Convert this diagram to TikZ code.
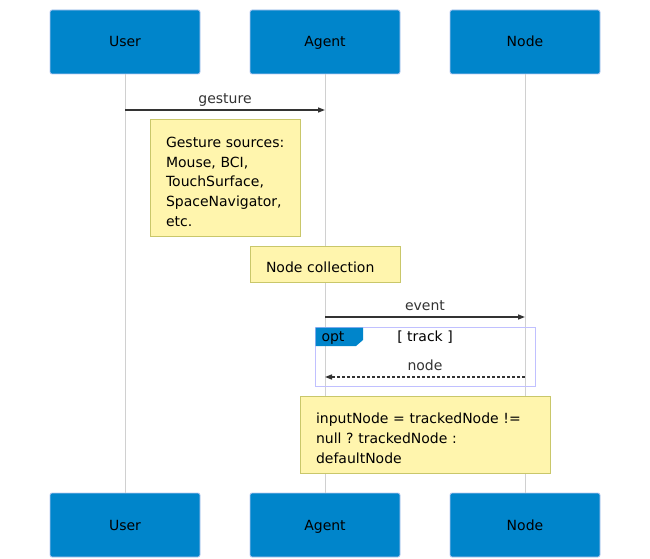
\documentclass[tikz,border=0pt]{standalone}
\usepackage{fontspec}
\setmainfont{DejaVu Sans}
\usepackage{xcolor}
\usetikzlibrary{arrows.meta}
\frenchspacing

\definecolor{actorblue}{HTML}{0085CB}
\definecolor{actorline}{HTML}{B9C8F0}
\definecolor{lifegray}{HTML}{D0D0D0}
\definecolor{notefill}{HTML}{FFF5AD}
\definecolor{noteline}{HTML}{C9C76A}
\definecolor{msggray}{HTML}{333333}
\definecolor{optline}{HTML}{C0C0FF}

\newcommand{\notetop}{\rule{0pt}{18pt}}

\tikzset{
    actor/.style={rectangle, rounded corners=2pt, fill=actorblue, draw=actorline,
        line width=0.8pt, minimum width=150pt, minimum height=64pt, inner sep=0pt,
        text height=10pt, text depth=0pt, font=\fontsize{14}{17}\selectfont},
    lifeline/.style={draw=lifegray, line width=1pt},
    msg/.style={draw=msggray, line width=1.4pt, -{Triangle[length=7pt,width=5pt]}},
    msglabel/.style={text=msggray, font=\fontsize{14}{17}\selectfont, inner sep=0pt, anchor=base},
    note/.style={rectangle, fill=notefill, draw=noteline, line width=1pt,
        inner xsep=16pt, inner ysep=0pt, align=left,
        font=\fontsize{14}{19.8}\selectfont}
}

\begin{document}
\begin{tikzpicture}[x=1pt, y=-1pt]
            \useasboundingbox (0,0) rectangle (650,559);

            % Actors
            \node[actor] (usertop) at (125,42) {User};
            \node[actor] (agenttop) at (325,42) {Agent};
            \node[actor] (nodetop) at (525,42) {Node};
            \node[actor] (userbot) at (125,525) {User};
            \node[actor] (agentbot) at (325,525) {Agent};
            \node[actor] (nodebot) at (525,525) {Node};

            % Lifelines
            \draw[lifeline] (usertop.south) -- (userbot.north);
            \draw[lifeline] (agenttop.south) -- (agentbot.north);
            \draw[lifeline] (nodetop.south) -- (nodebot.north);

            % Message points
            \coordinate (g1) at (125,110);
            \coordinate (g2) at (325,110);
            \coordinate (e1) at (325,317);
            \coordinate (e2) at (525,317);
            \coordinate (n1) at (525,377);
            \coordinate (n2) at (325,377);

            % Messages
            \draw[msg] (g1) -- (g2);
            \node[msglabel] (gesture) at (225,103) {gesture};
            \draw[msg] (e1) -- (e2);
            \node[msglabel] (event) at (425,310) {event};

            % Opt fragment
            \draw[optline, line width=1pt] (315,327) rectangle (535,386);
            \fill[actorblue] (315.5,327.5) -- (363,327.5) -- (363,340) -- (356,346) -- (315.5,346) -- cycle;
            \node[msglabel, text=black] (opt) at (333,341.5) {opt};
            \node[msglabel, text=black] (track) at (425,341.5) {[ track ]};
            \draw[msg, dash pattern=on 3pt off 2pt] (n1) -- (n2);
            \node[msglabel] (nodelabel) at (425,370) {node};

            % Notes
            \node[note, text width=118pt, minimum height=116pt] (sources) at (225,178)
                {\notetop Gesture~sources:\\Mouse, BCI,\\TouchSurface,\\SpaceNavigator,\\etc.};
            \node[note, text width=118pt, minimum height=36pt] (collection) at (325,264)
                {\notetop Node collection};
            \node[note, text width=218pt, minimum height=77pt] (input) at (425,434.5)
                {\notetop inputNode~=~trackedNode~!=\\null ? trackedNode :\\defaultNode};

        \end{tikzpicture}
\end{document}
